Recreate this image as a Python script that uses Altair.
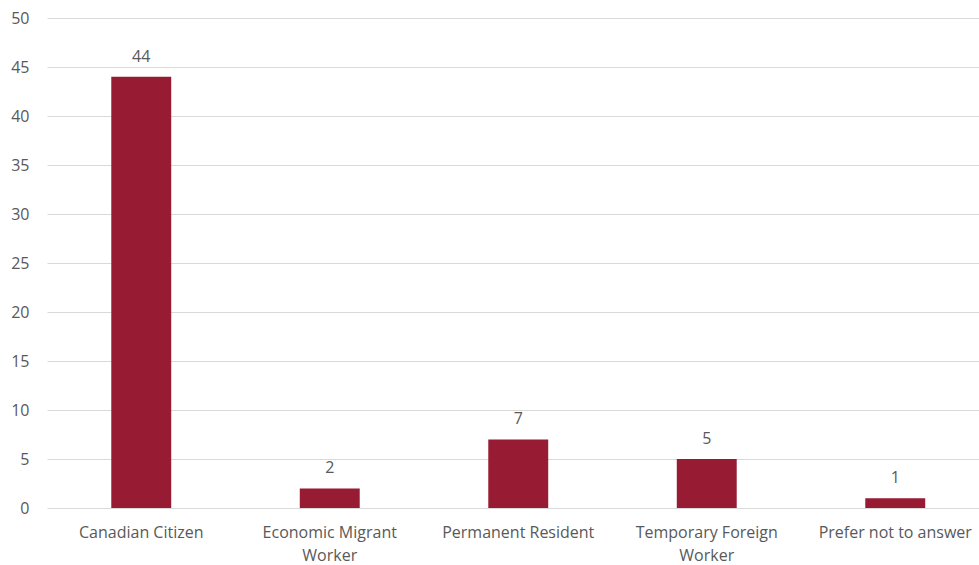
import altair as alt
import pandas as pd

categories = ["Canadian Citizen", "Economic Migrant|Worker", "Permanent Resident",
              "Temporary Foreign|Worker", "Prefer not to answer"]
values = [44, 2, 7, 5, 1]
y_ticks = [0, 5, 10, 15, 20, 25, 30, 35, 40, 45, 50]

df = pd.DataFrame({"cat": categories, "val": values})

FONT = "Open Sans"
GREY = "#595959"
BAR = "#971B33"
FS = 16

xscale = alt.Scale(range=[0, 942.5], paddingInner=0.682, paddingOuter=0.341)
x = alt.X("cat:N", sort=categories, scale=xscale,
          axis=alt.Axis(title=None, labelAngle=0, domain=False, ticks=False,
                        labelExpr="split(datum.label, '|')", labelPadding=16,
                        labelFont=FONT, labelFontSize=FS, labelColor=GREY,
                        labelLineHeight=23, labelLimit=300))
y = alt.Y("val:Q", scale=alt.Scale(domain=[0, 50], nice=False),
          axis=alt.Axis(title=None, values=y_ticks, domain=False, ticks=False,
                        labelPadding=18, labelFont=FONT, labelFontSize=FS,
                        labelColor=GREY, gridColor="#d9d9d9", gridWidth=1))

bars = alt.Chart(df).mark_bar(color=BAR).encode(x=x, y=y)
text = alt.Chart(df).mark_text(dy=-12, baseline="bottom", font=FONT, fontSize=FS,
                               color=GREY).encode(x=x, y=y, text="val:Q")

chart = (bars + text).properties(
    width=932, height=490,
    autosize=alt.AutoSizeParams(type="none"),
    padding={"left": 47, "top": 18, "right": 0, "bottom": 57},
).configure_view(stroke=None)

chart.save("out.html", embed_options={"renderer": "svg", "actions": False})
